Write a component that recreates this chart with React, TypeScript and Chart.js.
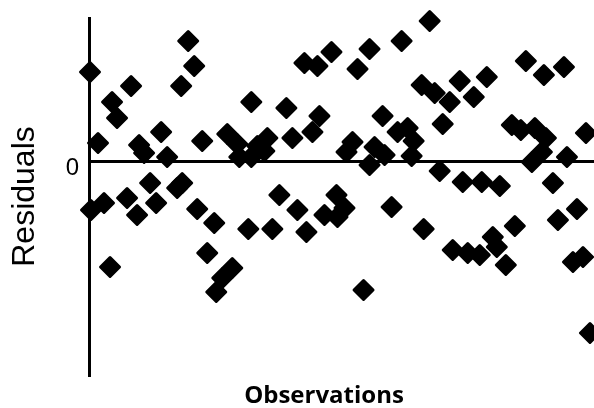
import React, { useEffect, useRef } from "react";
import { Chart, registerables } from "chart.js";

Chart.register(...registerables);

const observations = [
  0.25, 0.5, 2.25, 3.75, 5.25, 5.75, 7, 9.5, 10.5, 12, 12.5, 13.75, 15.25, 16.75, 18, 19.5,
  22, 23, 23.25, 24.75, 26.25, 27, 28.25, 29.5, 31.25, 31.75, 33.25, 34.5, 35.75, 37, 37.5,
  39.75, 40.5, 40.5, 42, 43.75, 44.5, 45.75, 47.5, 49.25, 50.75, 52, 53.75, 54.25, 55.75, 57,
  57.5, 58.75, 60.5, 61.75, 62, 63.75, 64.25, 65.75, 67, 68.5, 70, 70, 71.25, 73.25, 73.75,
  75.5, 77, 78, 79.5, 80.5, 81, 83, 83.5, 85, 86.25, 87.5, 88.25, 90, 90.75, 92.5, 93.25,
  94.5, 96, 97.5, 98, 99.25, 100.75, 101.75, 102.5, 104, 105.5, 106.25, 107.75, 109, 110.5,
  111.25, 113, 113.5, 114, 115.75, 117, 118.5, 119.25, 120.75, 121.75, 123.25, 124, 125,
];

const residuals = [
  8.9, -4.9, 1.8, -4.2, -10.6, 5.9, 4.3, -3.7, 7.5, -5.4, 1.6, 0.8, -2.2, -4.2, 2.9, 0.4,
  -2.7, 7.5, -2.2, 12.0, 9.5, -4.8, 2.0, -9.2, -6.2, -13.1, -11.7, 2.7, -10.7, 1.7, 0.4,
  -6.8, 5.9, 0.4, 1.5, 1.0, 2.3, -6.8, -3.4, 5.3, 2.3, -4.9, 9.8, -7.1, 2.9, 9.5,
  4.5, -5.4, 10.9, -3.4, -5.6, -4.7, 0.9, 1.9, 9.2, -12.9, 11.2, -0.4, 1.4, 4.5, 0.6,
  -4.6, 2.9, 12.0, 3.3, 0.5, 2.0, 7.6, -6.8, 14.0, 6.8, -1.0, 3.7, 5.9, -8.9, 8.0, -2.1,
  -9.2, 6.4, -9.4, -2.1, 8.4, -7.6, -8.6, -2.5, -10.4, 3.6, -6.5, 3.1, 10.0, -0.1,
  3.3, 0.9, 8.6, 2.3, -2.2, -5.9, 9.4, 0.4, -10.1, -4.8, -9.6, 2.8, -17.2,
];

const yTickValues = [0];
const xTitle = "Observations";
const yTitle = "Residuals";

export default function App() {
  const ref = useRef<HTMLCanvasElement>(null);

  useEffect(() => {
    const canvas = ref.current;
    if (!canvas) return;
    const roundJoin = {
      id: "roundJoin",
      beforeDatasetsDraw(chart: any) {
        chart.ctx.save();
        chart.ctx.lineJoin = "round";
      },
      afterDatasetsDraw(chart: any) {
        chart.ctx.restore();
      },
    };
    const xTitlePlugin = {
      id: "xTitlePlugin",
      afterDraw(chart: any) {
        const ctx = chart.ctx;
        ctx.save();
        ctx.fillStyle = "#000";
        ctx.font = "bold 24px 'Open Sans'";
        ctx.textAlign = "center";
        ctx.textBaseline = "middle";
        ctx.fillText(xTitle, 324, 396);
        ctx.restore();
      },
    };
    const chart = new Chart(canvas, {
      type: "scatter",
      data: {
        datasets: [
          {
            data: observations.map((x, i) => ({ x, y: residuals[i] })),
            pointStyle: "rectRot",
            pointRadius: 9.5,
            pointHoverRadius: 9.5,
            backgroundColor: "#000",
            borderColor: "#000",
            borderWidth: 3,
            clip: false,
          } as any,
        ],
      },
      options: {
        responsive: false,
        animation: false,
        devicePixelRatio: 1,
        events: [],
        layout: { autoPadding: false, padding: { top: 18, right: 0, left: 0, bottom: 0 } },
        plugins: { legend: { display: false }, tooltip: { enabled: false } },
        scales: {
          x: {
            type: "linear",
            min: 0,
            max: 126,
            grid: { display: false },
            border: { display: false },
            ticks: { display: false },
            title: { display: false, text: xTitle },
            afterFit: (s: any) => {
              s.height = 33;
              s.paddingLeft = 0;
              s.paddingRight = 0;
            },
          },
          y: {
            type: "linear",
            min: -21.4,
            max: 14.3,
            afterBuildTicks: (s: any) => {
              s.ticks = yTickValues.map((v) => ({ value: v }));
            },
            grid: { color: "#000", lineWidth: 3, drawTicks: false },
            border: { display: true, color: "#000", width: 3 },
            ticks: {
              color: "#000",
              padding: 10,
              labelOffset: 7,
              font: { family: "'Liberation Sans', Arial", size: 24 },
            },
            title: {
              display: true,
              text: yTitle,
              color: "#000",
              font: { family: "'Liberation Sans', Arial", size: 32 },
              padding: { top: 6, bottom: 0 },
            },
            afterFit: (s: any) => {
              s.width = 89;
              s.paddingTop = 0;
              s.paddingBottom = 0;
            },
          },
        },
      } as any,
      plugins: [roundJoin, xTitlePlugin],
    });
    return () => chart.destroy();
  }, []);

  return (
    <div style={{ position: "fixed", left: 0, top: 0, width: 594, height: 408 }}>
      <canvas ref={ref} width={594} height={408} style={{ display: "block" }} />
    </div>
  );
}
